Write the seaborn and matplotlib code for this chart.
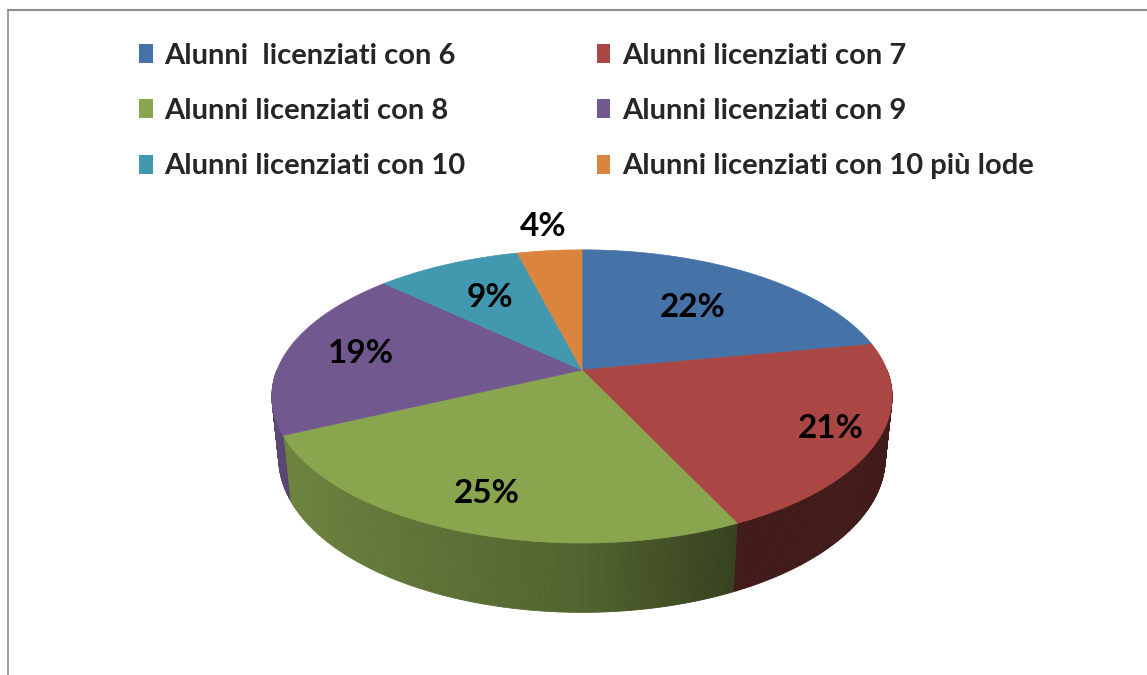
import numpy as np
import matplotlib
matplotlib.use("Agg")
import matplotlib.pyplot as plt
from matplotlib.patches import Polygon, Patch
from matplotlib.lines import Line2D
import seaborn as sns

# ---- data ----
categories = ["Alunni  licenziati con 6", "Alunni licenziati con 7",
              "Alunni licenziati con 8", "Alunni licenziati con 9",
              "Alunni licenziati con 10", "Alunni licenziati con 10 più lode"]
values = [22, 21, 25, 19, 9, 4]
pct_labels = ["22%", "21%", "25%", "19%", "9%", "4%"]
hex_colors = ["#4572a7", "#aa4643", "#89a54e", "#71588f", "#4198af", "#db843d"]

# label radial placement (fraction of radius), style only
label_radius = [0.62, 0.85, 0.80, 0.75, 0.65, 1.25]

sns.set_theme(style="white")
plt.rcParams['font.family'] = ['Lato', 'DejaVu Sans']
palette = sns.color_palette(hex_colors)

W, H = 1147, 675
fig = plt.figure(figsize=(W / 100, H / 100), dpi=100)
ax = fig.add_axes([0, 0, 1, 1])
ax.set_xlim(0, W)
ax.set_ylim(H, 0)
ax.axis("off")

# ---- 3D projection ----
CX, CY, S = 582.0, 370.0, 305.0
elev = np.arcsin(0.465)
se, ce = np.sin(elev), np.cos(elev)
DIST = 4.91
THICK = 0.23


def proj(x, y, z):
    x, y, z = np.asarray(x, float), np.asarray(y, float), np.asarray(z, float)
    v = y * se + z * ce
    w = y * ce - z * se
    f = DIST / (DIST + w)
    return CX + x * f * S, CY - v * f * S


total = float(sum(values))
angles = [90.0]
for val in values:
    angles.append(angles[-1] - 360.0 * val / total)


def shade(phi_deg):
    c = np.cos(np.radians(phi_deg))
    return np.interp(c, [-1.0, 0.0, 0.45, 1.0], [0.82, 0.60, 0.38, 0.38])


# sides (front half)
for i, col in enumerate(palette):
    a0, a1 = angles[i], angles[i + 1]
    lo, hi = max(a1, -180.0), min(a0, 0.0)
    if hi <= lo:
        continue
    phis = np.linspace(hi, lo, max(2, int((hi - lo) * 2) + 2))
    for p0, p1 in zip(phis[:-1], phis[1:]):
        ph = np.radians([p0, p1])
        xs, ys = np.cos(ph), np.sin(ph)
        tx, ty = proj(xs, ys, [0, 0])
        bx, by = proj(xs, ys, [-THICK, -THICK])
        fct = shade((p0 + p1) / 2)
        c = tuple(np.clip(np.array(col) * fct, 0, 1))
        poly = Polygon([(tx[0], ty[0]), (tx[1], ty[1]), (bx[1], by[1]), (bx[0], by[0])],
                       closed=True, facecolor=c, edgecolor=c, linewidth=0.6)
        ax.add_patch(poly)

# top faces
for i, col in enumerate(palette):
    a0, a1 = angles[i], angles[i + 1]
    ph = np.radians(np.linspace(a0, a1, 200))
    xs = np.concatenate([[0], np.cos(ph)])
    ys = np.concatenate([[0], np.sin(ph)])
    px, py = proj(xs, ys, np.zeros_like(xs))
    ax.add_patch(Polygon(np.column_stack([px, py]), closed=True,
                         facecolor=col, edgecolor=col, linewidth=0.5))

# labels
for i, lab in enumerate(pct_labels):
    mid = np.radians((angles[i] + angles[i + 1]) / 2)
    r = label_radius[i]
    lx, ly = proj(r * np.cos(mid), r * np.sin(mid), 0.0)
    ax.text(lx, ly, lab, ha="center", va="center", fontsize=24,
            fontweight="bold", color="black")

# legend (row-wise order in 2 columns)
order = [0, 2, 4, 1, 3, 5]
handles = [Patch(facecolor=palette[k], edgecolor="none") for k in order]
labels = [categories[k] for k in order]
leg = ax.legend(handles, labels, ncol=2, loc="upper left",
                bbox_to_anchor=(139, 43), bbox_transform=ax.transData,
                frameon=False, prop={"family": "Lato", "weight": "bold", "size": 21},
                handlelength=0.47, handleheight=0.62, handletextpad=0.4,
                columnspacing=4.5, labelspacing=1.0, borderpad=0, borderaxespad=0)

# chart border
fig.add_artist(Line2D([8 / W, 1.0], [1 - 10 / H, 1 - 10 / H], transform=fig.transFigure,
                      color="#8c8c8c", linewidth=1.5))
fig.add_artist(Line2D([8 / W, 8 / W], [1 - 10 / H, 0.0], transform=fig.transFigure,
                      color="#8c8c8c", linewidth=1.2))

fig.savefig("out.png", dpi=100, facecolor="white")
